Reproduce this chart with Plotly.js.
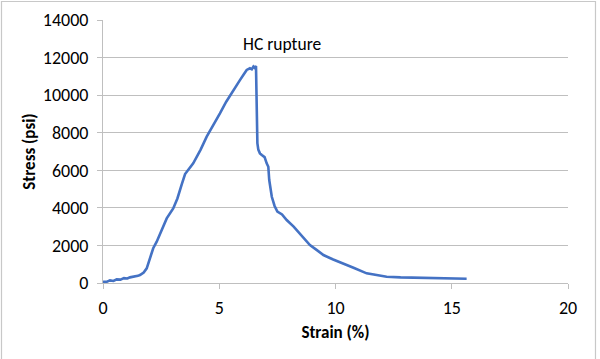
<!DOCTYPE html>
<html>
<head>
<meta charset="utf-8">
<script src="https://cdn.plot.ly/plotly-3.0.1.min.js"></script>
<style>html,body{margin:0;padding:0;background:#fff;}#chart{width:600px;height:359px;}</style>
</head>
<body>
<div id="chart"></div>
<script>
const strain = [0, 0.15, 0.3, 0.45, 0.59, 0.75, 0.9, 1.05, 1.16, 1.3, 1.4, 1.5, 1.59, 1.75, 1.88, 2.0, 2.16, 2.31, 2.5, 2.74, 3.02, 3.2, 3.4, 3.53, 3.88, 4.2, 4.46, 4.75, 5.03, 5.3, 5.6, 5.89, 6.05, 6.18, 6.32, 6.4, 6.47, 6.52, 6.58, 6.61, 6.64, 6.68, 6.75, 6.83, 6.95, 7.04, 7.11, 7.15, 7.26, 7.38, 7.5, 7.7, 7.9, 8.2, 8.47, 8.9, 9.2, 9.48, 9.9, 10.34, 10.8, 11.34, 11.8, 12.2, 12.8, 13.49, 14.2, 14.9, 15.64];
const stress = [70, 60, 140, 110, 195, 180, 260, 240, 300, 330, 320, 380, 425, 560, 780, 1200, 1850, 2200, 2750, 3440, 3970, 4500, 5300, 5800, 6370, 7100, 7790, 8400, 9030, 9650, 10270, 10800, 11100, 11340, 11430, 11380, 11520, 11460, 11550, 9500, 7440, 7100, 6900, 6810, 6700, 6370, 6190, 5480, 4590, 4100, 3800, 3650, 3350, 3000, 2640, 2020, 1750, 1490, 1250, 1050, 800, 515, 400, 335, 300, 283, 260, 245, 230];

const xTicks = [0, 5, 10, 15, 20];
const yTicks = [0, 2000, 4000, 6000, 8000, 10000, 12000, 14000];

const font = "Carlito, Calibri, 'Noto Sans', 'Open Sans', sans-serif";

const trace = {
  x: strain, y: stress, type: 'scatter', mode: 'lines',
  line: {color: '#4472C4', width: 2.6},
  hoverinfo: 'skip'
};

const layout = {
  width: 600, height: 359,
  margin: {l: 103, r: 32, t: 20, b: 76},
  paper_bgcolor: '#ffffff', plot_bgcolor: '#ffffff',
  showlegend: false,
  font: {family: font, size: 18, color: '#000'},
  xaxis: {
    range: [0, 20], tickvals: xTicks, ticktext: xTicks.map(String),
    showgrid: false, zeroline: false,
    showline: true, linecolor: '#bfbfbf', linewidth: 1,
    ticks: 'outside', ticklen: 5, tickcolor: '#bfbfbf',
    ticklabelstandoff: 3,
    tickfont: {family: font, size: 18, color: '#000'},
    title: {text: '<b>Strain (%)</b>', font: {family: font, size: 17, color: '#000'}, standoff: 8}
  },
  yaxis: {
    range: [0, 14000], tickvals: yTicks, ticktext: yTicks.map(String),
    showgrid: true, gridcolor: '#bfbfbf', gridwidth: 1,
    zeroline: false,
    showline: true, linecolor: '#bfbfbf', linewidth: 1,
    ticks: 'outside', ticklen: 5, tickcolor: '#bfbfbf',
    ticklabelstandoff: 5,
    tickfont: {family: font, size: 18, color: '#000'},
    title: {text: '<b>Stress (psi)</b>', font: {family: font, size: 17, color: '#000'}, standoff: 2}
  },
  annotations: [{
    text: 'HC rupture', x: 7.7, y: 12700, xref: 'x', yref: 'y',
    showarrow: false, font: {family: font, size: 17.5, color: '#000'}
  }],
  shapes: [{
    type: 'rect', xref: 'paper', yref: 'paper',
    x0: -0.2183, x1: 1.0591, y0: -0.35, y1: 1.0703,
    line: {color: '#c8c8c8', width: 1.2}, fillcolor: 'rgba(0,0,0,0)', layer: 'below'
  }]
};

Plotly.newPlot('chart', [trace], layout, {staticPlot: true, displayModeBar: false});
</script>
</body>
</html>
